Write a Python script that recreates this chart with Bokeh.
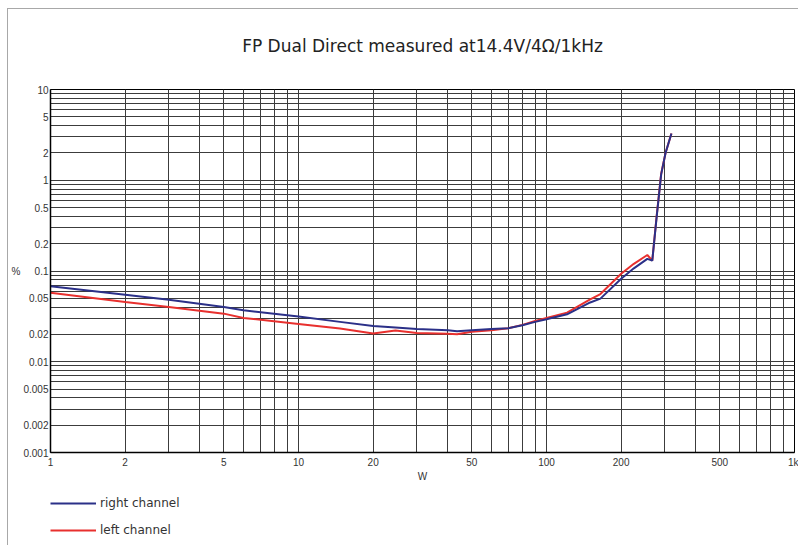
from bokeh.plotting import figure
from bokeh.layouts import column
from bokeh.models import FixedTicker, Legend, LegendItem
from bokeh.embed import file_html
from bokeh.resources import INLINE

# ---- data ----
power_w = [1, 2, 3, 5, 6, 10, 14.7, 20, 24.6, 30, 40, 43.6, 50, 60, 70, 80, 90,
           100, 121, 150, 165, 200, 225, 255, 267, 278, 290, 302, 319]
right_pct = [0.068, 0.0548, 0.0483, 0.0401, 0.0369, 0.0315, 0.0275, 0.0247, 0.0238,
             0.0229, 0.0223, 0.0217, 0.0223, 0.0229, 0.0234, 0.0252, 0.0275, 0.0294,
             0.0333, 0.0450, 0.0496, 0.0822, 0.107, 0.136, 0.130, 0.389, 1.16, 2.0, 3.27]
left_pct = [0.0577, 0.0455, 0.0401, 0.0339, 0.0304, 0.0261, 0.0232, 0.0205, 0.0221,
            0.0208, 0.0203, 0.0201, 0.0214, 0.0223, 0.0234, 0.0255, 0.0282, 0.0304,
            0.0348, 0.0487, 0.0557, 0.0931, 0.120, 0.150, 0.130, 0.40, 1.18, 2.0, 3.27]

series_names = ["right channel", "left channel"]
title_text = "FP Dual Direct measured at14.4V/4\u03a9/1kHz"

x_major = [1, 2, 5, 10, 20, 50, 100, 200, 500, 1000]
x_major_labels = ["1", "2", "5", "10", "20", "50", "100", "200", "500", "1k"]
x_minor = [3, 4, 6, 7, 8, 9, 30, 40, 60, 70, 80, 90, 300, 400, 600, 700, 800, 900]

y_major = [0.001, 0.002, 0.005, 0.01, 0.02, 0.05, 0.1, 0.2, 0.5, 1, 2, 5, 10]
y_major_labels = ["0.001", "0.002", "0.005", "0.01", "0.02", "0.05", "0.1", "0.2",
                  "0.5", "1", "2", "5", "10"]
y_minor = [0.003, 0.004, 0.006, 0.007, 0.008, 0.009,
           0.03, 0.04, 0.06, 0.07, 0.08, 0.09,
           0.3, 0.4, 0.6, 0.7, 0.8, 0.9,
           3, 4, 6, 7, 8, 9]

BLUE = "#2b3088"
RED = "#e8302e"
GRID = "#3c3c3c"
FRAME_GRAY = "#a8a8a8"
LINE_GRAD = f"linear-gradient({FRAME_GRAY},{FRAME_GRAY})"

# ---------------- main chart ----------------
p = figure(width=798, height=484, x_axis_type="log", y_axis_type="log",
           x_range=(1, 1000), y_range=(0.001, 10),
           output_backend="svg", toolbar_location=None,
           min_border_left=50, min_border_right=4, min_border_top=88,
           min_border_bottom=31)
p.border_fill_alpha = 0
p.styles = {"background": f"{LINE_GRAD} 7px 8px / 1px 100% no-repeat, "
                          f"{LINE_GRAD} 7px 8px / 100% 1px no-repeat, #ffffff"}

p.title.text = title_text
p.title.align = "center"
p.title.text_font = "DejaVu Sans"
p.title.text_font_size = "17px"
p.title.text_font_style = "normal"
p.title.text_color = "#222222"
p.title.standoff = 67

xt = FixedTicker(ticks=x_major, minor_ticks=x_minor)
yt = FixedTicker(ticks=y_major, minor_ticks=y_minor)
p.xaxis.ticker = xt
p.yaxis.ticker = yt
p.xgrid.ticker = xt
p.ygrid.ticker = yt
p.xaxis.major_label_overrides = dict(zip(x_major, x_major_labels))
p.yaxis.major_label_overrides = dict(zip(y_major, y_major_labels))

for g in (p.xgrid, p.ygrid):
    g.grid_line_color = GRID
    g.grid_line_width = 1
    g.minor_grid_line_color = GRID
    g.minor_grid_line_width = 1

for ax in (p.xaxis, p.yaxis):
    ax.major_tick_line_color = None
    ax.minor_tick_line_color = None
    ax.major_tick_out = 0
    ax.major_tick_in = 0
    ax.minor_tick_out = 0
    ax.minor_tick_in = 0
    ax.axis_line_color = "black"
    ax.axis_line_width = 1.5
    ax.major_label_text_font = "Liberation Sans"
    ax.major_label_text_font_size = "10px"
    ax.major_label_text_color = "#333333"
    ax.axis_label_text_font = "Liberation Sans"
    ax.axis_label_text_font_size = "10px"
    ax.axis_label_text_font_style = "normal"
    ax.axis_label_text_color = "#333333"

p.xaxis.axis_label = "W"
p.xaxis.major_label_standoff = 4
p.xaxis.axis_label_standoff = 0
p.yaxis.axis_label = "%"
p.yaxis.axis_label_orientation = "horizontal"
p.yaxis.major_label_standoff = 2
p.yaxis.axis_label_standoff = 0

p.outline_line_color = "black"
p.outline_line_width = 1

# left (red) first so the right channel (blue) lies on top where they overlap
p.line(power_w, left_pct, line_color=RED, line_width=2)
p.line(power_w, right_pct, line_color=BLUE, line_width=2)

# ---------------- legend strip below the chart ----------------
# its ranges keep the (legend-key) series out of view, so only the legend shows
lg = figure(width=798, height=61, x_range=(-2, -1), y_range=(-2, -1),
            output_backend="svg", toolbar_location=None,
            x_axis_location=None, y_axis_location=None,
            min_border=0, min_border_left=0, min_border_right=0,
            min_border_top=0, min_border_bottom=0)
lg.grid.visible = False
lg.outline_line_color = None
lg.border_fill_alpha = 0
lg.background_fill_alpha = 0
lg.styles = {"background": f"{LINE_GRAD} 7px 0px / 1px 100% no-repeat, #ffffff"}

key_right = lg.line(power_w, right_pct, line_color=BLUE, line_width=2)
key_left = lg.line(power_w, left_pct, line_color=RED, line_width=2)

legend = Legend(items=[LegendItem(label=series_names[0], renderers=[key_right]),
                       LegendItem(label=series_names[1], renderers=[key_left])],
                location=(0, 5), orientation="vertical",
                glyph_width=46, glyph_height=20, label_height=20, spacing=7,
                padding=0, margin=0, label_standoff=4,
                border_line_color=None, background_fill_alpha=0,
                label_text_font="DejaVu Sans", label_text_font_size="12px",
                label_text_color="#333333")
lg.add_layout(legend)

layout = column(p, lg, spacing=0)
open("out.html", "w").write(file_html(layout, INLINE))
